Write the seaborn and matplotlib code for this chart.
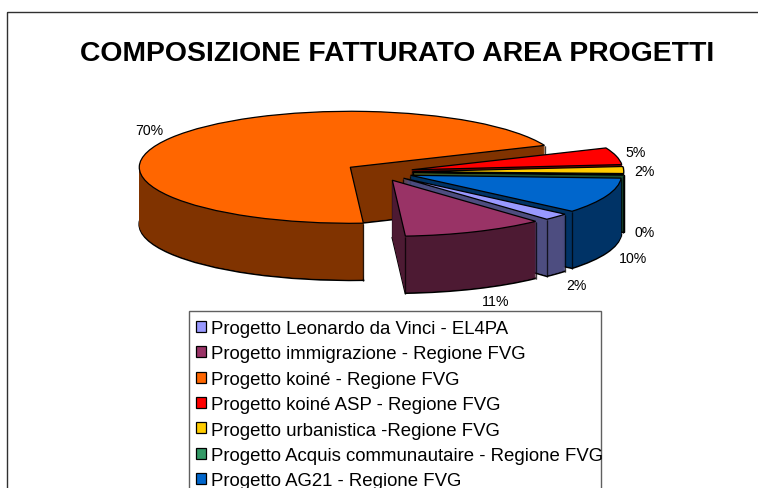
import matplotlib
matplotlib.use("Agg")
import matplotlib.pyplot as plt
import seaborn as sns
import numpy as np
from matplotlib.patches import Rectangle

# ---- data ----
title_text = "COMPOSIZIONE FATTURATO AREA PROGETTI"
categories = [
    "Progetto Leonardo da Vinci - EL4PA",
    "Progetto immigrazione - Regione FVG",
    "Progetto koiné - Regione FVG",
    "Progetto koiné ASP - Regione FVG",
    "Progetto urbanistica -Regione FVG",
    "Progetto Acquis communautaire - Regione FVG",
    "Progetto AG21 - Regione FVG",
]
shares = [2.0, 10.9, 69.6, 4.9, 2.0, 0.3, 10.3]
top_colors = ["#9999FF", "#993366", "#FF6600", "#FF0000", "#FFCC00", "#339966", "#0066CC"]
side_colors = ["#4D4D80", "#4D1A33", "#803300", "#800000", "#806600", "#1A4D33", "#003366"]
label_offsets_px = [(20, 68), (20, 69), (-21, -8), (19, -4), (21, 1), (21, 57), (26, 62)]

# ---- style / layout ----
W, H = 758, 489
sns.set_theme(style="white")
plt.rcParams["font.family"] = ["Liberation Sans", "DejaVu Sans"]
CX, CY = 379, 173      # pie centre, px
RX, RY = 211, 56       # ellipse semi-axes, px
DEPTH = 57             # extrusion, px
EXPLODE = 0.16
START = 320

fig = plt.figure(figsize=(W / 100, H / 100), dpi=100, facecolor="white")
ax = fig.add_axes([0, 0, 1, 1])
ov = fig.add_axes([0, 0, 1, 1], facecolor="none")
ov.set_xlim(0, W)
ov.set_ylim(H, 0)
ov.set_axis_off()

pal_top = sns.color_palette(top_colors)
pal_side = sns.color_palette(side_colors)
explode = [EXPLODE] * len(shares)


def draw_layer(shift_px, colors, edge, lw, z):
    wedges, _ = ax.pie(
        shares, colors=colors, explode=explode, startangle=START,
        counterclock=False, radius=1, center=(0, -shift_px / RY),
        labeldistance=None,
        wedgeprops=dict(linewidth=lw),
    )
    for w, c in zip(wedges, colors):
        w.set_zorder(z)
        w.set_edgecolor(edge if edge is not None else c)
    return wedges


# extruded sides: lower layers first, higher layers paint over them
for i, s in enumerate(range(DEPTH, 0, -1)):
    wedges = draw_layer(s, pal_side, "black" if s == DEPTH else None,
                        1.3 if s == DEPTH else 0.4, i + 1)
    xs, ys = [], []
    for w in wedges:
        cx, cy = w.center
        corners = [(cx, cy)]
        for th in (w.theta1, w.theta2):
            corners.append((cx + w.r * np.cos(np.radians(th)),
                            cy + w.r * np.sin(np.radians(th))))
        for px_, py_ in corners:
            xs += [px_, px_, np.nan]
            ys += [py_, py_ - 1.0 / RY, np.nan]
    ax.plot(xs, ys, color="black", lw=0.9, zorder=i + 1.5, solid_capstyle="butt")

top = draw_layer(0, pal_top, "black", 0.9, DEPTH + 5)

ax.set_aspect("auto")
ax.set_xlim((0 - CX) / RX, (W - CX) / RX)
ax.set_ylim((CY - H) / RY, CY / RY)
ax.set_axis_off()

# outer frame (bottom and right run off the picture)
ov.add_patch(Rectangle((6.5, 12.5), W + 20, H + 20, fill=False, ec="#303030", lw=1.0))

ov.text(397.5, 54, title_text, ha="center", va="center", fontsize=20.4,
        fontweight="bold", color="black")

# percentage labels anchored on each wedge's outer mid-point
total = sum(shares)
for w, v, off in zip(top, shares, label_offsets_px):
    mid = np.radians((w.theta1 + w.theta2) / 2)
    xy = (w.center[0] + w.r * np.cos(mid), w.center[1] + w.r * np.sin(mid))
    ax.annotate(f"{v / total * 100:.0f}%", xy=xy, xycoords="data",
                xytext=(off[0], -off[1]), textcoords="offset pixels",
                ha="center", va="center", fontsize=10.2, color="black",
                zorder=DEPTH + 10)

# legend box (its right edge sits inside the longest entry, as in the reference)
ov.add_patch(Rectangle((189, 312), 412, H, fc="white", ec="#606060", lw=1.0, zorder=1))
leg = ov.legend(
    top, categories, loc="upper left", bbox_to_anchor=(196, 321),
    bbox_transform=ov.transData, frameon=False, borderaxespad=0, borderpad=0,
    fontsize=13.4, labelspacing=0.45, handlelength=0.54, handleheight=0.54,
    handletextpad=0.26,
)
leg.set_zorder(2)
for t in leg.get_texts():
    t.set_color("black")

fig.savefig("out.png", dpi=100)
